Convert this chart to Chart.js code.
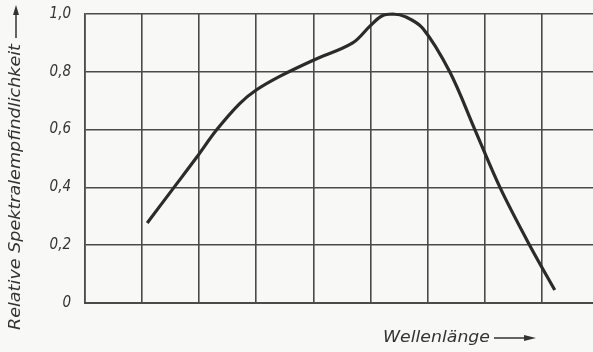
<!DOCTYPE html>
<html>
<head>
<meta charset="utf-8">
<script src="https://cdn.jsdelivr.net/npm/chart.js@4"></script>
<style>
  html, body { margin: 0; padding: 0; background: #f8f8f7; }
  #wrap { width: 593px; height: 352px; }
</style>
</head>
<body>
<div id="wrap"><canvas id="spektrum"></canvas></div>
<script>
// Werte (x = Rasterfelder, y = relative Empfindlichkeit)
const wellenX = [1.09, 1.54, 1.96, 2.31, 2.71, 3.0, 3.42, 4.0, 4.69, 5.0, 5.2, 5.39, 5.62, 5.92, 6.39, 6.83, 7.27, 7.79, 8.23];
const empfindlichkeit = [0.277, 0.395, 0.505, 0.60, 0.69, 0.737, 0.785, 0.84, 0.90, 0.96, 0.993, 1.0, 0.99, 0.95, 0.80, 0.60, 0.40, 0.20, 0.045];
const yTicks = [0, 0.2, 0.4, 0.6, 0.8, 1.0];
const yTickLabels = ["0", "0,2", "0,4", "0,6", "0,8", "1,0"];
const xGridLines = [0, 1, 2, 3, 4, 5, 6, 7, 8];
const yTitel = "Relative Spektralempfindlichkeit";
const xTitel = "Wellenlänge";

const schrift = "'DejaVu Sans Condensed', 'Liberation Sans Narrow', sans-serif";
const linienFarbe = "#4a4a4a";

// Achsentitel mit Pfeilen
const titelPlugin = {
    id: "titel",
    afterDraw(chart) {
        const ctx = chart.ctx;
        ctx.save();
        ctx.fillStyle = "#333";
        ctx.strokeStyle = "#333";
        ctx.font = "italic 15px " + schrift;
        ctx.textBaseline = "middle";

        // y-Titel, gedreht
        ctx.save();
        ctx.translate(16, 330);
        ctx.rotate(-Math.PI / 2);
        const wy = ctx.measureText(yTitel).width;
        ctx.scale(286 / wy, 1);
        ctx.textAlign = "left";
        ctx.fillText(yTitel, 0, 0);
        ctx.restore();
        ctx.lineWidth = 1.5;
        ctx.beginPath();
        ctx.moveTo(16, 38);
        ctx.lineTo(16, 12);
        ctx.stroke();
        ctx.beginPath();
        ctx.moveTo(16, 5);
        ctx.lineTo(13, 15);
        ctx.lineTo(19, 15);
        ctx.closePath();
        ctx.fill();

        // x-Titel
        ctx.save();
        ctx.translate(383, 338);
        const wx = ctx.measureText(xTitel).width;
        ctx.scale(107 / wx, 1);
        ctx.textAlign = "left";
        ctx.fillText(xTitel, 0, 0);
        ctx.restore();
        ctx.beginPath();
        ctx.moveTo(494, 338);
        ctx.lineTo(526, 338);
        ctx.stroke();
        ctx.beginPath();
        ctx.moveTo(536, 338);
        ctx.lineTo(524, 335);
        ctx.lineTo(524, 341);
        ctx.closePath();
        ctx.fill();
        ctx.restore();
    }
};

new Chart(document.getElementById("spektrum").getContext("2d"), {
    type: "line",
    data: {
        datasets: [{
            data: wellenX.map((x, i) => ({ x: x, y: empfindlichkeit[i] })),
            borderColor: "#2b2b2b",
            borderWidth: 3.2,
            pointRadius: 0,
            tension: 0.35,
            clip: false
        }]
    },
    options: {
        responsive: true,
        maintainAspectRatio: false,
        animation: false,
        layout: { padding: { top: 14, right: 0, left: 0, bottom: 0 } },
        plugins: {
            legend: { display: false },
            tooltip: { enabled: false }
        },
        scales: {
            x: {
                type: "linear",
                min: 0,
                max: 8.9,
                afterBuildTicks: s => { s.ticks = xGridLines.map(v => ({ value: v })); },
                afterFit: s => { s.height = 49; s.paddingLeft = 0; s.paddingRight = 0; },
                grid: { color: linienFarbe, lineWidth: 1.6, drawTicks: false },
                border: { color: linienFarbe, width: 2 },
                ticks: { display: false }
            },
            y: {
                min: 0,
                max: 1,
                afterBuildTicks: s => { s.ticks = yTicks.map(v => ({ value: v })); },
                afterFit: s => { s.width = 85; s.paddingTop = 0; s.paddingBottom = 0; },
                grid: { color: linienFarbe, lineWidth: 1.6, drawTicks: false },
                border: { color: linienFarbe, width: 1.6 },
                ticks: {
                    padding: 14,
                    color: "#333",
                    font: { family: schrift, size: 15, style: "italic" },
                    callback: (v, i) => yTickLabels[yTicks.indexOf(v)]
                }
            }
        }
    },
    plugins: [titelPlugin]
});
</script>
</body>
</html>
